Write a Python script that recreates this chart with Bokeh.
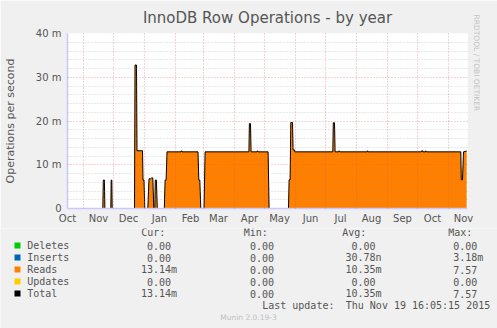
from datetime import datetime, timedelta
from bokeh.plotting import figure
from bokeh.layouts import column
from bokeh.models import Range1d, FixedTicker, ColumnDataSource, Title
from bokeh.core.properties import value
from bokeh.embed import file_html
from bokeh.resources import INLINE

# ---------------- data ----------------
end_time = datetime(2015, 11, 19, 16, 5, 15)
start_time = end_time - timedelta(days=400)

# Reads (operations per second, milli units) at day offsets since graph start
reads_day = [25.0, 35.3, 35.8, 36.9, 37.4, 43.3, 43.7, 44.3, 44.7,
             67.0, 67.5, 69.0, 69.5, 75.0, 75.5, 76.5, 77.3,
             80.3, 81.5, 83.3, 84.2, 85.3, 86.3,
             87.3, 87.8, 88.9, 89.8,
             96.8, 97.6, 98.6, 99.5, 113.6, 114.0, 114.5, 130.5, 131.3, 132.3, 133.3,
             136.5, 137.6, 181.4, 181.9, 183.0, 183.6, 189.6, 190.0, 190.6, 200.6, 201.6,
             221.0, 221.6, 222.6, 223.3, 225.0, 225.6, 227.0, 227.3,
             265.3, 265.8, 267.0, 267.6, 271.3, 271.6, 272.3,
             299.8, 300.0, 300.6,
             354.0, 354.3, 355.0, 355.3, 358.0, 358.3, 358.8,
             393.3, 393.8, 395.0, 396.0, 399.2]
reads_val = [0.0, 0.0, 6.5, 6.5, 0.0, 0.0, 6.5, 6.5, 0.0,
             0.0, 32.8, 32.8, 13.2, 13.2, 6.5, 6.5, 0.0,
             0.0, 6.8, 6.8, 7.0, 7.0, 0.0,
             0.0, 6.5, 6.5, 0.0,
             0.0, 6.5, 6.5, 12.95, 12.95, 13.2, 12.95, 12.95, 6.5, 6.5, 0.0,
             0.0, 12.95, 12.95, 19.4, 19.4, 12.95, 12.95, 13.2, 12.95, 12.95, 0.0,
             0.0, 6.56, 6.56, 19.66, 19.66, 13.4, 13.4, 12.95,
             12.95, 19.6, 19.6, 12.95, 12.95, 13.2, 12.95,
             12.95, 13.2, 12.95,
             12.95, 13.2, 13.2, 12.95, 12.95, 13.2, 12.95,
             12.95, 6.56, 6.56, 12.95, 13.14]
# Deletes, Inserts and Updates are ~0, so the Total line follows Reads
total_day = reads_day
total_val = reads_val

y_ticks = [0, 10, 20, 30, 40]
y_tick_labels = ["0", "10 m", "20 m", "30 m", "40 m"]
y_minor = [2, 4, 6, 8, 12, 14, 16, 18, 22, 24, 26, 28, 32, 34, 36, 38]

month_names = ["Oct", "Nov", "Dec", "Jan", "Feb", "Mar", "Apr", "May",
               "Jun", "Jul", "Aug", "Sep", "Oct", "Nov"]

legend_names = ["Deletes", "Inserts", "Reads", "Updates", "Total"]
legend_colors = ["#00cc00", "#0066b3", "#ff8000", "#ffcc00", "#000000"]
col_heads = ["Cur:", "Min:", "Avg:", "Max:"]
cur_vals = ["0.00", "0.00", "13.14m", "0.00", "13.14m"]
min_vals = ["0.00", "0.00", "0.00", "0.00", "0.00"]
avg_vals = ["0.00", "30.78n", "10.35m", "0.00", "10.35m"]
max_vals = ["0.00", "3.18m", "7.57", "0.00", "7.57"]
last_update = "Thu Nov 19 16:05:15 2015"

# ---------------- month ticks ----------------
def day_of(dt):
    return (dt - start_time).total_seconds() / 86400.0

month_starts, label_pos = [], []
yy, mm = 2014, 10
for i in range(len(month_names)):
    ms = datetime(yy, mm, 1)
    label_pos.append(int(round(day_of(ms + timedelta(days=15)))))
    if i > 0:
        month_starts.append(day_of(ms))
    mm += 1
    if mm > 12:
        mm, yy = 1, yy + 1

# ---------------- main figure ----------------
W = 497
FL, FT, FW, FH = 67, 33, 400, 175
H1 = 228
TXT = "#555555"
BG = "#f0f0f0"

p = figure(width=W, height=H1, output_backend="svg", toolbar_location=None,
           x_range=Range1d(0, 400), y_range=Range1d(0, 40),
           min_border_left=FL, min_border_right=W - FL - FW,
           min_border_top=FT, min_border_bottom=H1 - FT - FH)
p.border_fill_color = BG
p.background_fill_color = "#ffffff"
p.outline_line_color = None

src = ColumnDataSource(dict(x=reads_day, y=reads_val, z=[0.0] * len(reads_day)))
p.varea(x="x", y1="z", y2="y", source=src, fill_color="#ff8000")
p.line(total_day, total_val, line_color="#000000", line_width=1)

p.xaxis.ticker = FixedTicker(ticks=label_pos)
p.xaxis.major_label_overrides = {lp: nm for lp, nm in zip(label_pos, month_names)}
p.yaxis.ticker = FixedTicker(ticks=y_ticks, minor_ticks=y_minor)
p.yaxis.major_label_overrides = {t: l for t, l in zip(y_ticks, y_tick_labels)}
for ax in (p.xaxis[0], p.yaxis[0]):
    ax.axis_line_color = "#c8c8ff"
    ax.axis_line_width = 1.5
    ax.major_tick_line_color = None
    ax.minor_tick_line_color = None
    ax.major_tick_out = 0
    ax.major_tick_in = 0
    ax.minor_tick_out = 0
    ax.minor_tick_in = 0
    ax.major_label_text_font = "DejaVu Sans"
    ax.major_label_text_font_size = "10px"
    ax.major_label_text_color = TXT
p.xaxis.major_label_standoff = 4
p.yaxis.major_label_standoff = 6
p.yaxis.axis_label = "Operations per second"
p.yaxis.axis_label_text_font = "DejaVu Sans"
p.yaxis.axis_label_text_font_size = "11px"
p.yaxis.axis_label_text_font_style = "normal"
p.yaxis.axis_label_text_color = TXT
p.yaxis.axis_label_standoff = 16

p.xgrid.ticker = FixedTicker(ticks=month_starts)
p.xgrid.grid_line_color = "#e05050"
p.xgrid.grid_line_alpha = 0.5
p.xgrid.grid_line_dash = "1 2"
p.xgrid.level = "overlay"
p.ygrid.ticker = FixedTicker(ticks=y_ticks[1:], minor_ticks=y_minor)
p.ygrid.grid_line_color = "#e05050"
p.ygrid.grid_line_alpha = 0.5
p.ygrid.grid_line_dash = "1 2"
p.ygrid.minor_grid_line_color = "#909090"
p.ygrid.minor_grid_line_alpha = 0.4
p.ygrid.minor_grid_line_dash = "1 2"
p.ygrid.level = "overlay"

p.title.text = "InnoDB Row Operations - by year"
p.title.align = "center"
p.title.vertical_align = "top"
p.title.text_font = "DejaVu Sans"
p.title.text_font_size = "15px"
p.title.text_font_style = "normal"
p.title.text_color = TXT
p.title.offset = -19
try:
    p.title.standoff = 9
except Exception:
    pass

rt = Title(text="RRDTOOL / TOBI OETIKER", align="left", vertical_align="top",
           text_font="DejaVu Sans", text_font_size="7.5px",
           text_font_style="normal", text_color="#c4c4c4", offset=-19)
try:
    rt.standoff = 5
except Exception:
    pass
p.add_layout(rt, "right")

# ---------------- legend figure ----------------
H2 = 100
q = figure(width=W, height=H2, output_backend="svg", toolbar_location=None,
           x_range=Range1d(0, W), y_range=Range1d(H1 + H2, H1),
           x_axis_type=None, y_axis_type=None,
           min_border=0, min_border_left=0, min_border_right=0,
           min_border_top=0, min_border_bottom=0)
q.border_fill_color = BG
q.background_fill_color = BG
q.outline_line_color = None
q.grid.visible = False

for fig in (p, q):
    try:
        fig.frame_align = False
    except Exception:
        pass

MONO = value("DejaVu Sans Mono")
CW = 6.0
row_y = [245, 257, 269, 281, 293]
head_x = [140.7, 243.3, 341.7, 447.7]
num_end = [170.5, 273.5, 375.0, 476.8]

q.rect(x=[17] * 5, y=row_y, width=6, height=6, fill_color=legend_colors,
       line_color=None)
q.text(x=[26.7] * 5, y=row_y, text=legend_names, text_font=MONO,
       text_font_size="10px", text_color=TXT, text_baseline="middle")
q.text(x=head_x, y=[232] * 4, text=col_heads, text_font=MONO,
       text_font_size="10px", text_color=TXT, text_baseline="middle")

vx, vy, vt = [], [], []
for col, vals in enumerate([cur_vals, min_vals, avg_vals, max_vals]):
    for i, v in enumerate(vals):
        vx.append(num_end[col] + (CW if v[-1].isalpha() else 0.0))
        vy.append(row_y[i])
        vt.append(v)
q.text(x=vx, y=vy, text=vt, text_font=MONO, text_font_size="10px",
       text_color=TXT, text_baseline="middle", text_align="right")

q.text(x=[261.7], y=[304.5], text=["Last update:"], text_font=MONO,
       text_font_size="10px", text_color=TXT, text_baseline="middle")
q.text(x=[417.5], y=[304.5], text=[last_update], text_font=MONO,
       text_font_size="10px", text_color=TXT, text_baseline="middle",
       text_align="center")
q.text(x=[248], y=[317], text=["Munin 2.0.19-3"], text_font=value("DejaVu Sans"),
       text_font_size="7.5px", text_color="#c0c0c0", text_baseline="middle",
       text_align="center")

layout = column(p, q, spacing=0)
open("out.html", "w").write(file_html(layout, INLINE))
